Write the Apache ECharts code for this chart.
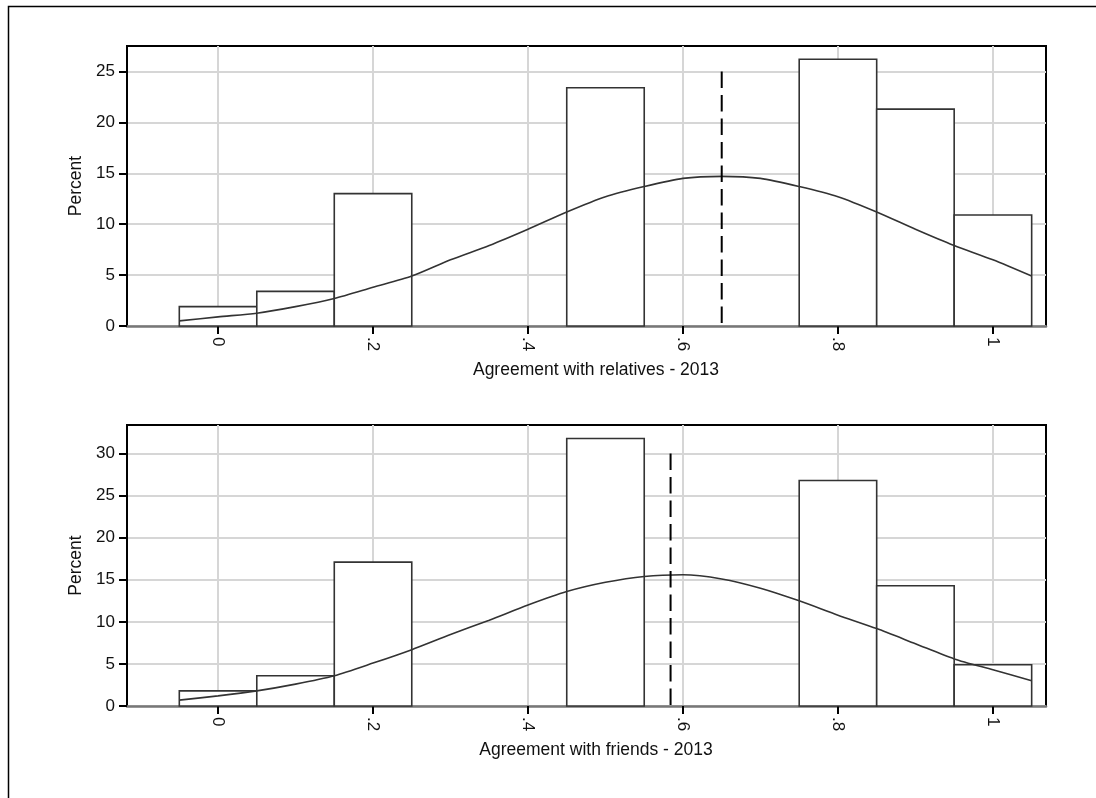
<!DOCTYPE html>
<html>
<head>
<meta charset="utf-8">
<script src="https://cdn.jsdelivr.net/npm/echarts@6/dist/echarts.min.js"></script>
<style>
  html, body { margin: 0; padding: 0; background: #fff; }
  #chart { width: 1096px; height: 798px; }
</style>
</head>
<body>
<div id="chart"></div>
<script>
// Histogram bins (bin centres) and bin width
const binCenters = [0, 0.1, 0.2, 0.5, 0.8, 0.9, 1.0];
const binWidth = 0.1;

// Percent of respondents per bin
const relativesPct = [1.9, 3.4, 13.0, 23.4, 26.2, 21.3, 10.9];
const friendsPct = [1.8, 3.6, 17.1, 31.8, 26.8, 14.3, 4.9];

// Normal density overlay, sampled along x
const curveX = [-0.05, 0, 0.05, 0.1, 0.15, 0.2, 0.25, 0.3, 0.35, 0.4, 0.45, 0.5,
                0.55, 0.6, 0.65, 0.7, 0.75, 0.8, 0.85, 0.9, 0.95, 1.0, 1.05];
const relativesCurve = [0.5, 0.9, 1.25, 1.9, 2.7, 3.8, 4.9, 6.5, 7.9, 9.5, 11.2, 12.7,
                        13.7, 14.5, 14.7, 14.5, 13.7, 12.7, 11.2, 9.5, 7.9, 6.5, 4.9];
const friendsCurve = [0.7, 1.2, 1.8, 2.6, 3.6, 5.1, 6.7, 8.5, 10.2, 12.0, 13.6, 14.7,
                      15.4, 15.6, 15.1, 14.0, 12.5, 10.8, 9.2, 7.4, 5.6, 4.3, 3.0];

// Mean markers (x position, height of the dashed line)
const relativesMean = [0.65, 25];
const friendsMean = [0.584, 30];

// Axis ticks
const xTicks = [0, 0.2, 0.4, 0.6, 0.8, 1];
const xTickLabels = ['0', '.2', '.4', '.6', '.8', '1'];
const relativesYTicks = [0, 5, 10, 15, 20, 25];
const friendsYTicks = [0, 5, 10, 15, 20, 25, 30];
const relativesYMax = 27.5;
const friendsYMax = 33.4;

const xTitles = ['Agreement with relatives - 2013', 'Agreement with friends - 2013'];
const yTitle = 'Percent';

const FONT = 'Liberation Sans, Arial, Helvetica, sans-serif';
const FONT_SIZE = 17;
const TITLE_SIZE = 17.5;
const GRID_COLOR = '#d6d6d6';
const INK = '#333333';

function pairs(xs, ys) { return xs.map((x, i) => [x, ys[i]]); }

function xAxisFor(gridIndex, title) {
  return {
    type: 'value', gridIndex: gridIndex,
    min: -0.1175, max: 1.0685,
    name: title, nameLocation: 'middle', nameGap: 35,
    nameTextStyle: { color: '#111', fontSize: TITLE_SIZE, fontFamily: FONT, padding: [0, 0, 0, 19] },
    axisLine: { show: true, onZero: false, lineStyle: { color: '#777', width: 2.6 } },
    axisTick: { show: true, length: 8, customValues: xTicks, lineStyle: { color: '#000', width: 2 } },
    axisLabel: {
      show: true, customValues: xTicks, rotate: -90, margin: 11,
      color: '#111', fontSize: FONT_SIZE, fontFamily: FONT,
      formatter: v => { const i = xTicks.findIndex(t => Math.abs(t - v) < 1e-6); return i >= 0 ? xTickLabels[i] : ''; }
    },
    splitLine: { show: true, lineStyle: { color: GRID_COLOR, width: 2 } }
  };
}

function yAxisFor(gridIndex, max, ticks) {
  return {
    type: 'value', gridIndex: gridIndex,
    min: 0, max: max,
    name: yTitle, nameLocation: 'middle', nameGap: 42,
    nameTextStyle: { color: '#111', fontSize: TITLE_SIZE, fontFamily: FONT },
    axisLine: { show: true, onZero: false, lineStyle: { color: '#000', width: 2 } },
    axisTick: { show: true, length: 8, customValues: ticks, lineStyle: { color: '#000', width: 2 } },
    axisLabel: {
      show: true, customValues: ticks, margin: 12,
      color: '#111', fontSize: FONT_SIZE, fontFamily: FONT
    },
    splitLine: { show: true, lineStyle: { color: GRID_COLOR, width: 2 } }
  };
}

function histSeries(idx, pct) {
  return {
    type: 'custom', xAxisIndex: idx, yAxisIndex: idx, z: 2,
    data: pairs(binCenters, pct),
    encode: { x: 0, y: 1 },
    renderItem: function (params, api) {
      const x = api.value(0), y = api.value(1);
      const p0 = api.coord([x - binWidth / 2, y]);
      const p1 = api.coord([x + binWidth / 2, 0]);
      return {
        type: 'rect',
        shape: { x: p0[0], y: p0[1], width: p1[0] - p0[0], height: p1[1] - p0[1] },
        style: { fill: '#ffffff', stroke: INK, lineWidth: 1.6 }
      };
    }
  };
}

function curveSeries(idx, ys) {
  return {
    type: 'line', xAxisIndex: idx, yAxisIndex: idx, z: 3,
    data: pairs(curveX, ys), showSymbol: false, symbol: 'none',
    smooth: 0.25, silent: true,
    lineStyle: { color: INK, width: 1.6 }
  };
}

// Dashed mean line, drawn from the top down so the pattern starts with a dash
function meanSeries(idx, mean) {
  return {
    type: 'line', xAxisIndex: idx, yAxisIndex: idx, z: 4,
    data: [[mean[0], mean[1]], [mean[0], 0]], showSymbol: false, symbol: 'none', silent: true,
    lineStyle: { color: '#000', width: 2, type: [16.5, 7] }
  };
}

const chart = echarts.init(document.getElementById('chart'), null, { renderer: 'canvas' });
chart.setOption({
  backgroundColor: '#ffffff',
  animation: false,
  graphic: [{
    type: 'rect', z: 100, silent: true,
    shape: { x: 8.5, y: 6.5, width: 1200, height: 900 },
    style: { fill: 'none', stroke: '#000', lineWidth: 1.5 }
  }],
  grid: [
    { left: 127, top: 46, width: 919, height: 280, show: true, borderColor: '#000', borderWidth: 2, backgroundColor: '#fff' },
    { left: 127, top: 425, width: 919, height: 281, show: true, borderColor: '#000', borderWidth: 2, backgroundColor: '#fff' }
  ],
  xAxis: [xAxisFor(0, xTitles[0]), xAxisFor(1, xTitles[1])],
  yAxis: [yAxisFor(0, relativesYMax, relativesYTicks), yAxisFor(1, friendsYMax, friendsYTicks)],
  series: [
    histSeries(0, relativesPct), curveSeries(0, relativesCurve), meanSeries(0, relativesMean),
    histSeries(1, friendsPct), curveSeries(1, friendsCurve), meanSeries(1, friendsMean)
  ]
});
</script>
</body>
</html>
